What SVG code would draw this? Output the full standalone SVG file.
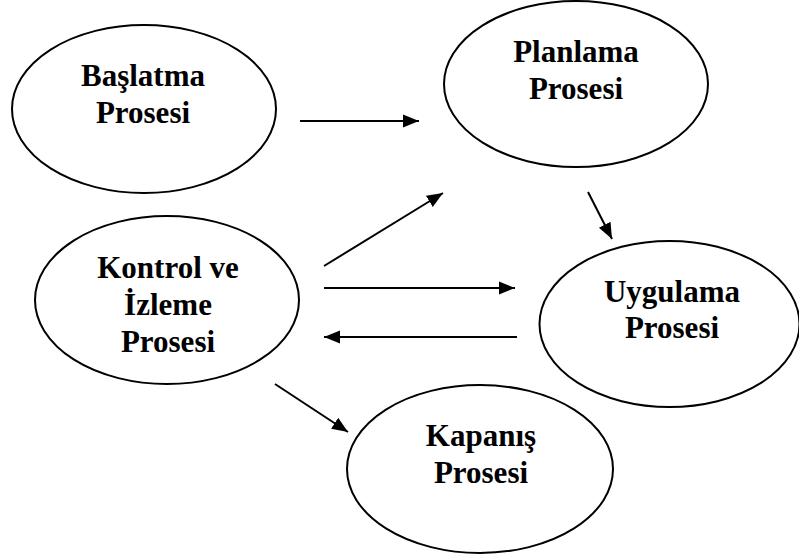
<svg xmlns="http://www.w3.org/2000/svg" width="799" height="560" viewBox="0 0 799 560">
<style>
.n ellipse{fill:#fff;stroke:#000;stroke-width:2}
.n text{font-family:"Liberation Serif","Times New Roman",serif;font-weight:bold;font-size:31px;fill:#000;text-anchor:middle}
#edges line{stroke:#000;stroke-width:2;marker-end:url(#ah)}
</style>
<defs>
<marker id="ah" markerUnits="userSpaceOnUse" markerWidth="18" markerHeight="16" viewBox="0 0 18 16" refX="16" refY="8" orient="auto">
<path d="M0,1.5 L16,8 L0,14.5 Z" fill="#000"/>
</marker>
</defs>
<rect width="799" height="560" fill="#fff"/>
<g id="baslatma" class="n">
<ellipse cx="144" cy="109" rx="132" ry="84"/>
<text x="143" y="86">Başlatma</text>
<text x="143" y="123">Prosesi</text>
</g>
<g id="planlama" class="n">
<ellipse cx="576" cy="84" rx="132" ry="83"/>
<text x="576" y="62">Planlama</text>
<text x="576" y="99">Prosesi</text>
</g>
<g id="kontrol" class="n">
<ellipse cx="167" cy="300" rx="132" ry="84"/>
<text x="168" y="278">Kontrol ve</text>
<text x="168" y="315">İzleme</text>
<text x="168" y="352">Prosesi</text>
</g>
<g id="uygulama" class="n">
<ellipse cx="669.5" cy="324" rx="130" ry="83"/>
<text x="672" y="302">Uygulama</text>
<text x="672" y="338">Prosesi</text>
</g>
<g id="kapanis" class="n">
<ellipse cx="480" cy="469" rx="133" ry="84"/>
<text x="481" y="446">Kapanış</text>
<text x="481" y="483">Prosesi</text>
</g>
<g id="edges">
<line x1="300" y1="121" x2="419" y2="121"/>
<line x1="324" y1="266" x2="443" y2="193"/>
<line x1="588" y1="192" x2="612" y2="239"/>
<line x1="324" y1="288" x2="515" y2="288"/>
<line x1="517" y1="337" x2="324" y2="337"/>
<line x1="275" y1="384" x2="348" y2="432"/>
</g>
</svg>
